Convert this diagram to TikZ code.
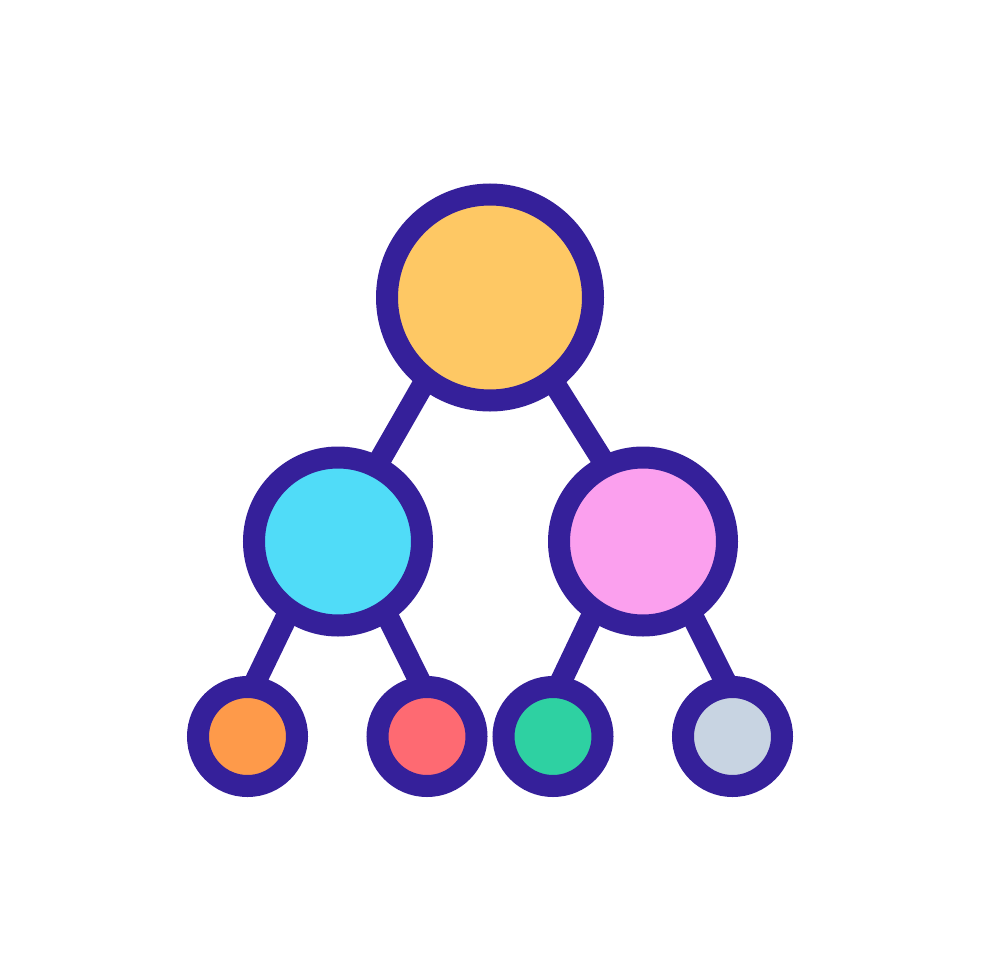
\documentclass[tikz,border=0pt]{standalone}
\usetikzlibrary{backgrounds}
\definecolor{ink}{HTML}{35209A}
\definecolor{cyel}{HTML}{FEC864}
\definecolor{ccyan}{HTML}{50DCF8}
\definecolor{cpink}{HTML}{FBA0EE}
\definecolor{corange}{HTML}{FE9A4A}
\definecolor{cred}{HTML}{FE6A72}
\definecolor{cgreen}{HTML}{2ED1A2}
\definecolor{cgrey}{HTML}{C8D4E2}
\begin{document}
\begin{tikzpicture}[x=1pt,y=-1pt,
  ball/.style={circle,draw=ink,line width=22pt,inner sep=0pt,outer sep=0pt},
  big/.style={ball,minimum size=206pt},
  mid/.style={ball,minimum size=168pt},
  small/.style={ball,minimum size=99pt},
  link/.style={draw=ink,line width=22pt}]
\useasboundingbox (0,0) rectangle (980,980);
\node[big,fill=cyel] (top) at (490,297.5) {};
\node[mid,fill=ccyan] (ml) at (338,541.5) {};
\node[mid,fill=cpink] (mr) at (643,541.5) {};
\node[small,fill=corange] (b1) at (247.5,736.5) {};
\node[small,fill=cred] (b2) at (427,736.5) {};
\node[small,fill=cgreen] (b3) at (553,736.5) {};
\node[small,fill=cgrey] (b4) at (732.5,736.5) {};
\begin{scope}[on background layer]
\draw[link] (top.232.4) -- (ml.63.2);
\draw[link] (top.307.6) -- (mr.116.8);
\draw[link] (ml.235.5) -- (b1.84.1);
\draw[link] (ml.304.5) -- (b2.95.9);
\draw[link] (mr.235.5) -- (b3.84.1);
\draw[link] (mr.304.5) -- (b4.95.9);
\end{scope}
\end{tikzpicture}
\end{document}
